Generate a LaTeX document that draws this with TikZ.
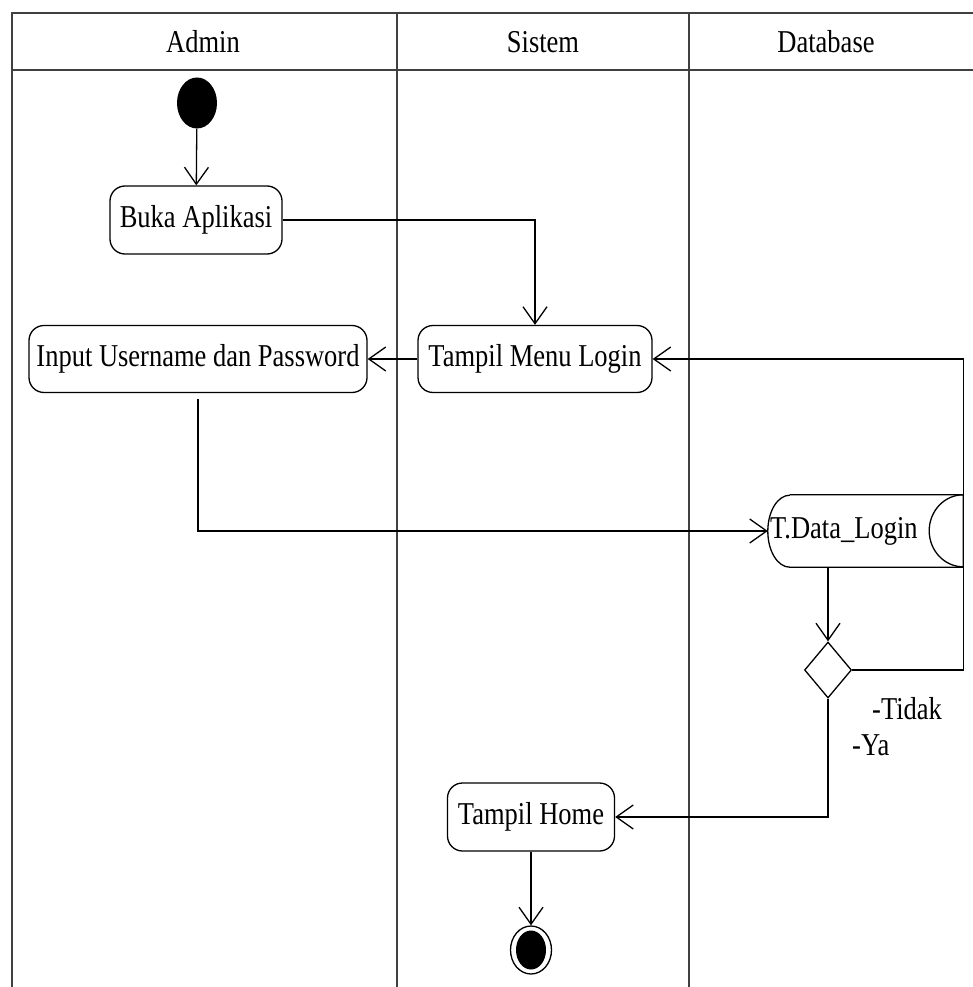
\documentclass[tikz,border=0pt]{standalone}
\usepackage{fontspec}
\setmainfont{Liberation Serif}
\usetikzlibrary{arrows.meta,shapes.geometric}
% slightly tall lettering, as in the drawing
\newcommand{\tallt}[1]{\scalebox{1}[1.2]{#1}}
\tikzset{
  lane/.style={line width=2pt, draw=black!75},
  act/.style={draw, line width=1.3pt, rounded corners=15pt, inner sep=0pt,
              font=\fontsize{26.5}{31}\selectfont},
  lbl/.style={inner sep=0pt, font=\fontsize{26.5}{31}\selectfont},
  flow/.style={line width=1.3pt, -{Straight Barb[length=17pt,width=24pt,line width=1.3pt]}},
  wire/.style={line width=1.3pt},
}
\begin{document}
\begin{tikzpicture}[x=1pt,y=-1pt]
\useasboundingbox (0,0) rectangle (973,987);

% swimlane frame
\draw[lane] (973,13) -- (12,13) -- (12,987);
\draw[lane] (12,70) -- (973,70);
\draw[lane] (397,13) -- (397,987);
\draw[lane] (689,13) -- (689,987);
\node[lbl] (hAdmin) at (203,42) {\tallt{Admin}};
\node[lbl] (hSistem) at (543,42) {\tallt{Sistem}};
\node[lbl] (hDb) at (826,42) {\tallt{Database}};

% initial node
\node[ellipse, fill=black, minimum width=40pt, minimum height=51pt, inner sep=0pt] (start) at (197,103) {};

% activities
\node[act, minimum width=172pt, minimum height=68pt] (buka) at (196,220) {\tallt{Buka Aplikasi}};
\node[act, minimum width=338pt, minimum height=67pt] (input) at (198,359) {\tallt{Input Username dan Password}};
\node[act, minimum width=234pt, minimum height=67pt] (menu) at (535,359) {\tallt{Tampil Menu Login}};
\node[act, minimum width=167pt, minimum height=68pt] (home) at (531,817) {\tallt{Tampil Home}};

% data store T.Data_Login
\node[minimum width=195pt, minimum height=72pt, inner sep=0pt] (tdata) at (865.5,531) {};
\draw[line width=1.3pt] ([xshift=22pt]tdata.north west) -- (tdata.north east) -- (tdata.south east)
  -- ([xshift=22pt]tdata.south west) arc[start angle=270, end angle=90, x radius=22pt, y radius=36pt];
\draw[line width=1.3pt] (tdata.north east) arc[start angle=90, end angle=270, x radius=34pt, y radius=36pt];
\node[lbl, anchor=west] (tdataText) at (770,531) {\tallt{T.Data\_Login}};

% decision
\node[diamond, draw, line width=1.3pt, minimum width=47pt, minimum height=56pt, inner sep=0pt] (dec) at (828,670) {};
\node[lbl, anchor=base west] (tidak) at (872,719) {\tallt{-Tidak}};
\node[lbl, anchor=base west] (ya) at (852,755) {\tallt{-Ya}};

% final node
\node[ellipse, draw, line width=1.3pt, fill=white, minimum width=41pt, minimum height=48pt, inner sep=0pt] (final) at (531,950) {};
\fill (final.center) ellipse[x radius=15pt, y radius=19.5pt];

% control flow
\draw[flow] (start) -- (buka);
\draw[flow] (buka.east) -| (menu.north);
\draw[flow] (menu.west) -- (input.east);
\draw[flow] ([yshift=-6pt]input.south) |- (tdata.west);
\draw[flow] (dec.north |- tdata.south) -- (dec.north);
\draw[flow] (dec.east) -- (dec.east -| tdata.east) |- (menu.east);
\draw[flow] (dec.south) |- (home.east);
\draw[flow] (home.south) -- (final.north);
\end{tikzpicture}
\end{document}
